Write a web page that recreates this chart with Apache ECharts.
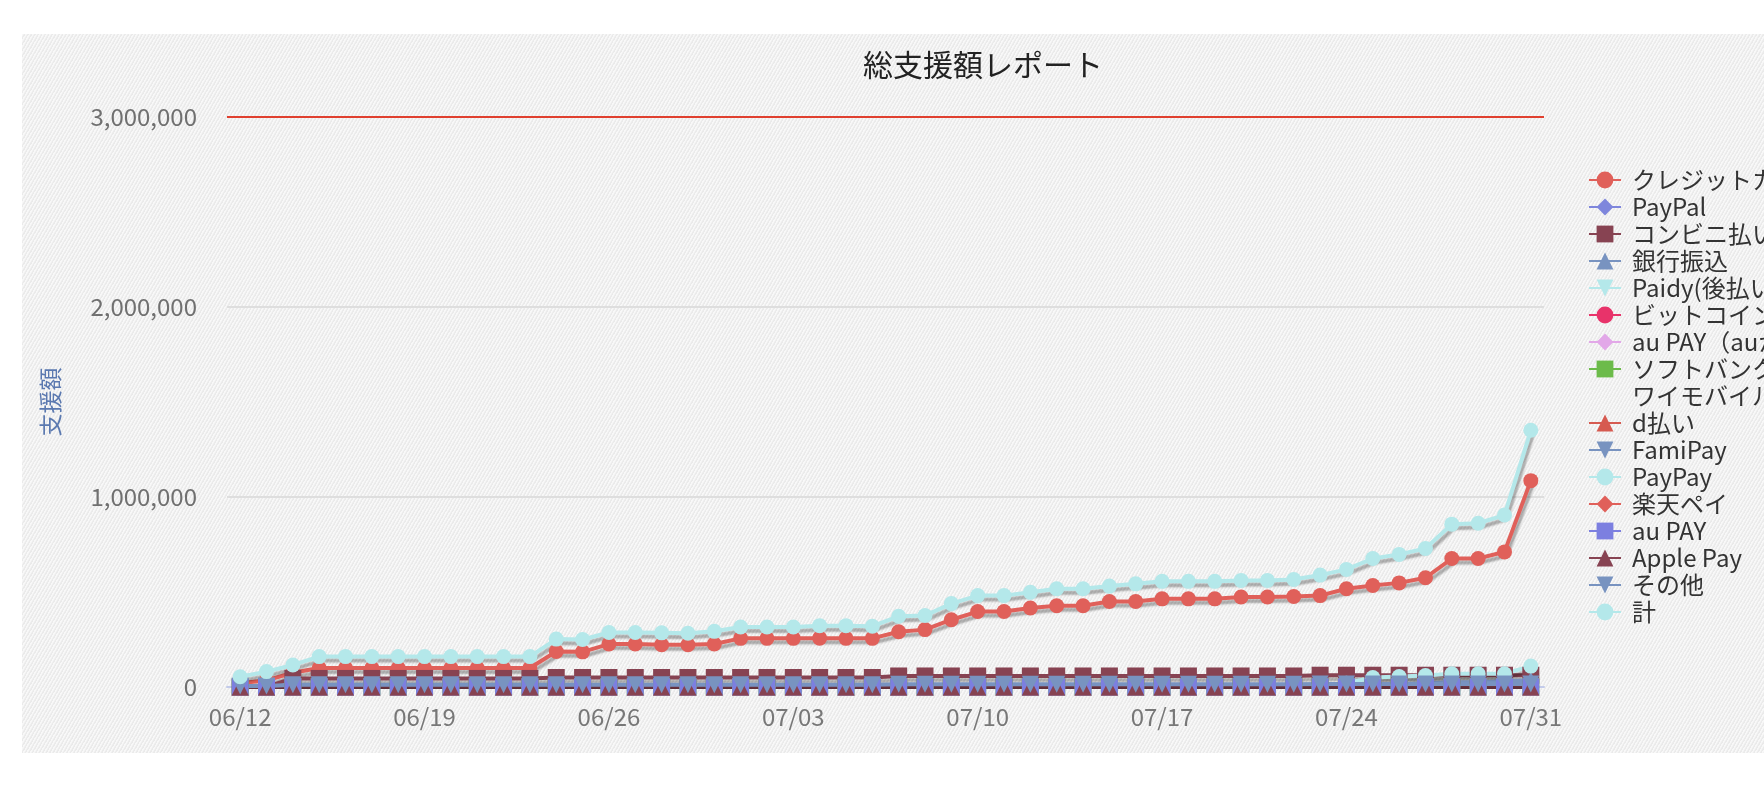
<!DOCTYPE html>
<html>
<head>
<meta charset="utf-8">
<script src="https://cdn.jsdelivr.net/npm/echarts@6/dist/echarts.min.js"></script>
<style>
  html, body { margin: 0; padding: 0; background: #fff; overflow: hidden; width: 1764px; height: 786px; }
  #main {
    position: absolute; left: 22px; top: 34px; width: 1800px; height: 719px;
    background-color: #f0f0f0;
    background-image: repeating-linear-gradient(120deg, rgba(255,255,255,0.55) 0px, rgba(255,255,255,0.55) 1px, rgba(0,0,0,0.025) 2px, rgba(0,0,0,0.025) 3px);
  }
</style>
</head>
<body>
<div id="main"></div>
<script>
// 日付
var days = ['06/12', '06/13', '06/14', '06/15', '06/16', '06/17', '06/18', '06/19', '06/20', '06/21',
  '06/22', '06/23', '06/24', '06/25', '06/26', '06/27', '06/28', '06/29', '06/30', '07/01',
  '07/02', '07/03', '07/04', '07/05', '07/06', '07/07', '07/08', '07/09', '07/10', '07/11',
  '07/12', '07/13', '07/14', '07/15', '07/16', '07/17', '07/18', '07/19', '07/20', '07/21',
  '07/22', '07/23', '07/24', '07/25', '07/26', '07/27', '07/28', '07/29', '07/30', '07/31'];

var yTicks = [0, 1000000, 2000000, 3000000];
var goal = 3000000;

// 支払方法ごとの累計額
var credit = [20000, 35000, 75000, 100000, 100000, 100000, 100000, 100000, 100000, 100000,
  100000, 100000, 187000, 185000, 226000, 226000, 222000, 222000, 226000, 256000,
  256000, 256000, 257000, 256000, 256000, 291000, 302000, 354000, 397000, 397000,
  416000, 428000, 428000, 450000, 450000, 464000, 464000, 464000, 474000, 474000,
  476000, 481000, 517000, 534000, 548000, 575000, 676000, 676000, 711000, 1086000];
var paypal = [0, 0, 0, 0, 0, 0, 0, 0, 0, 0, 0, 0, 0, 0, 0, 0, 0, 0, 0, 0, 0, 0, 0, 0, 0,
  0, 0, 0, 0, 0, 0, 0, 0, 0, 0, 0, 0, 0, 0, 0, 0, 0, 0, 0, 0, 0, 0, 0, 0, 0];
var konbini = [0, 0, 45000, 45000, 45000, 45000, 45000, 45000, 45000, 45000,
  45000, 45000, 50000, 50000, 50000, 50000, 50000, 50000, 50000, 50000,
  50000, 50000, 50000, 50000, 50000, 58000, 58000, 58000, 58000, 58000,
  58000, 58000, 58000, 58000, 58000, 58000, 58000, 58000, 58000, 58000,
  58000, 62000, 62000, 62000, 62000, 62000, 62000, 62000, 62000, 62000];
var bank = [0, 0, 0, 0, 0, 0, 0, 0, 0, 0, 0, 0, 0, 0, 0, 0, 0, 0, 0, 0, 0, 0, 0, 0, 0,
  0, 0, 0, 0, 0, 0, 0, 0, 0, 0, 0, 0, 0, 0, 0, 0, 0, 10000, 15000, 15000, 20000, 25000, 25000, 30000, 35000];
var paidy = [0, 0, 0, 0, 0, 0, 0, 0, 0, 0, 0, 0, 0, 0, 0, 0, 0, 0, 0, 0, 0, 0, 0, 0, 0,
  0, 0, 0, 0, 0, 0, 0, 0, 0, 0, 0, 0, 0, 0, 0, 0, 0, 0, 0, 0, 0, 0, 0, 0, 0];
var bitcoin = [0, 0, 0, 0, 0, 0, 0, 0, 0, 0, 0, 0, 0, 0, 0, 0, 0, 0, 0, 0, 0, 0, 0, 0, 0,
  0, 0, 0, 0, 0, 0, 0, 0, 0, 0, 0, 0, 0, 0, 0, 0, 0, 0, 0, 0, 0, 0, 0, 0, 0];
var aukantan = [0, 0, 0, 0, 0, 0, 0, 0, 0, 0, 0, 0, 0, 0, 0, 0, 0, 0, 0, 0, 0, 0, 0, 0, 0,
  0, 0, 0, 0, 0, 0, 0, 0, 0, 0, 0, 0, 0, 0, 0, 0, 0, 0, 0, 0, 0, 0, 0, 0, 0];
var softbank = [0, 0, 0, 0, 0, 0, 0, 0, 0, 0, 0, 0, 0, 0, 0, 0, 0, 0, 0, 0, 0, 0, 0, 0, 0,
  0, 0, 0, 0, 0, 0, 0, 0, 0, 0, 0, 0, 0, 0, 0, 0, 0, 0, 0, 0, 0, 0, 0, 0, 0];
var dpay = [0, 0, 0, 0, 0, 0, 0, 0, 0, 0, 0, 0, 0, 0, 0, 0, 0, 0, 0, 0, 0, 0, 0, 0, 0,
  0, 0, 0, 0, 0, 0, 0, 0, 0, 0, 0, 0, 0, 0, 0, 0, 0, 0, 0, 0, 0, 0, 0, 0, 0];
var famipay = [0, 0, 0, 0, 0, 0, 0, 0, 0, 0, 0, 0, 0, 0, 0, 0, 0, 0, 0, 0, 0, 0, 0, 0, 0,
  0, 0, 0, 0, 0, 0, 0, 0, 0, 0, 0, 0, 0, 0, 0, 0, 0, 0, 0, 0, 0, 0, 0, 0, 0];
var paypay = [0, 0, 0, 0, 0, 0, 0, 0, 0, 0, 0, 0, 0, 0, 0, 0, 0, 0, 0, 0, 0, 0, 0, 0, 0,
  0, 0, 0, 0, 0, 0, 0, 0, 0, 0, 0, 0, 0, 0, 0, 0, 0, 20000, 50000, 55000, 60000, 70000, 70000, 70000, 110000];
var rakuten = [0, 0, 0, 0, 0, 0, 0, 0, 0, 0, 0, 0, 0, 0, 0, 0, 0, 0, 0, 0, 0, 0, 0, 0, 0,
  0, 0, 0, 0, 0, 0, 0, 0, 0, 0, 0, 0, 0, 0, 0, 0, 0, 0, 0, 0, 0, 0, 0, 0, 0];
var aupay = [0, 0, 0, 0, 0, 0, 0, 0, 0, 0, 0, 0, 0, 0, 0, 0, 0, 0, 0, 0, 0, 0, 0, 0, 0,
  0, 0, 0, 0, 0, 0, 0, 0, 0, 0, 0, 0, 0, 0, 0, 0, 0, 0, 0, 0, 0, 0, 0, 0, 0];
var applepay = [0, 0, 0, 0, 0, 0, 0, 0, 0, 0, 0, 0, 0, 0, 0, 0, 0, 0, 0, 0, 0, 0, 0, 0, 0,
  0, 0, 0, 0, 0, 0, 0, 0, 0, 0, 0, 0, 0, 0, 0, 0, 0, 0, 0, 0, 0, 0, 0, 0, 0];
var other = [5000, 5000, 12000, 12000, 12000, 12000, 12000, 12000, 12000, 12000,
  12000, 12000, 12000, 12000, 12000, 12000, 12000, 12000, 12000, 12000,
  12000, 12000, 12000, 12000, 12000, 14000, 14000, 14000, 14000, 14000,
  14000, 14000, 14000, 14000, 14000, 14000, 14000, 14000, 14000, 14000,
  14000, 16000, 16000, 16000, 16000, 16000, 16000, 16000, 16000, 16000];
var total = [54000, 81000, 116000, 160000, 160000, 160000, 160000, 160000, 160000, 160000,
  160000, 160000, 252000, 250000, 287000, 287000, 285000, 283000, 293000, 316000,
  316000, 316000, 323000, 323000, 320000, 372000, 376000, 439000, 481000, 481000,
  499000, 517000, 517000, 531000, 543000, 556000, 556000, 556000, 561000, 561000,
  566000, 589000, 619000, 676000, 698000, 729000, 857000, 862000, 905000, 1351000];

var FONT = 'Noto Sans CJK JP';

function line(name, data, color, symbol, rotate) {
  return {
    name: name,
    type: 'line',
    data: data,
    symbol: symbol,
    symbolSize: symbol === 'circle' ? 15 : 17,
    symbolRotate: rotate || 0,
    itemStyle: { color: color },
    lineStyle: {
      color: color, width: 4,
      shadowColor: 'rgba(0,0,0,0.3)', shadowBlur: 2, shadowOffsetX: 2, shadowOffsetY: 4
    },
    emphasis: { disabled: true }
  };
}

var series = [
  line('クレジットカード', credit, '#e0605a', 'circle'),
  line('PayPal', paypal, '#7e86dc', 'diamond'),
  line('コンビニ払い', konbini, '#874352', 'rect'),
  line('銀行振込', bank, '#7893c0', 'triangle'),
  line('Paidy(後払い)', paidy, '#b4e8ea', 'triangle', 180),
  line('ビットコイン', bitcoin, '#e8336a', 'circle'),
  line('au PAY（auかんたん決済）', aukantan, '#e2a8e8', 'diamond'),
  line('ソフトバンクまとめて支払い', softbank, '#6cbb4a', 'rect'),
  { name: 'ワイモバイルまとめて支払い', type: 'line', data: [] },
  line('d払い', dpay, '#d65a50', 'triangle'),
  line('FamiPay', famipay, '#7893c0', 'triangle', 180),
  line('PayPay', paypay, '#b4e8ea', 'circle'),
  line('楽天ペイ', rakuten, '#e0605a', 'diamond'),
  line('au PAY', aupay, '#7c7fe0', 'rect'),
  line('Apple Pay', applepay, '#874352', 'triangle'),
  line('その他', other, '#7893c0', 'triangle', 180),
  line('計', total, '#b4e8ea', 'circle')
];

series[16].markLine = {
  silent: true,
  symbol: 'none',
  label: { show: false },
  lineStyle: { color: '#e0402f', width: 2, type: 'solid', shadowBlur: 0, shadowOffsetX: 0, shadowOffsetY: 0 },
  data: [{ yAxis: goal }]
};

var legendData = series.map(function (s) {
  if (s.name === 'ワイモバイルまとめて支払い') return { name: s.name, icon: 'none' };
  return { name: s.name };
});

var chart = echarts.init(document.getElementById('main'));
chart.setOption({
  animation: false,
  backgroundColor: 'transparent',
  textStyle: { fontFamily: FONT },
  title: {
    text: '総支援額レポート',
    left: 836,
    top: 11,
    textStyle: { fontSize: 30, fontWeight: 'normal', color: '#222', fontFamily: FONT }
  },
  legend: {
    orient: 'vertical',
    left: 1566,
    top: 134,
    padding: 0,
    itemGap: 3,
    itemWidth: 32,
    itemHeight: 21,
    textStyle: { fontSize: 24, color: '#333', fontFamily: FONT, padding: [0, 0, 0, 6] },
    data: legendData
  },
  grid: { left: 205, top: 83, width: 1317, height: 570 },
  xAxis: {
    type: 'category',
    data: days,
    boundaryGap: true,
    axisLine: { lineStyle: { color: '#c3cbea', width: 2 } },
    axisTick: { interval: 6, alignWithLabel: true, length: 17, lineStyle: { color: '#c3cbea', width: 2 } },
    axisLabel: { interval: 6, margin: 18, fontSize: 24, color: '#777', fontFamily: FONT },
    splitLine: { show: false }
  },
  yAxis: {
    type: 'value',
    min: yTicks[0],
    max: yTicks[yTicks.length - 1],
    interval: yTicks[1] - yTicks[0],
    name: '支援額',
    nameLocation: 'middle',
    nameGap: 165,
    nameTextStyle: { fontSize: 23, color: '#5b79b0', fontFamily: FONT },
    axisLine: { show: false },
    axisTick: { show: false },
    axisLabel: { margin: 30, fontSize: 24, color: '#707070', fontFamily: FONT },
    splitLine: { lineStyle: { color: '#dedede', width: 2 } }
  },
  series: series
});
</script>
</body>
</html>
